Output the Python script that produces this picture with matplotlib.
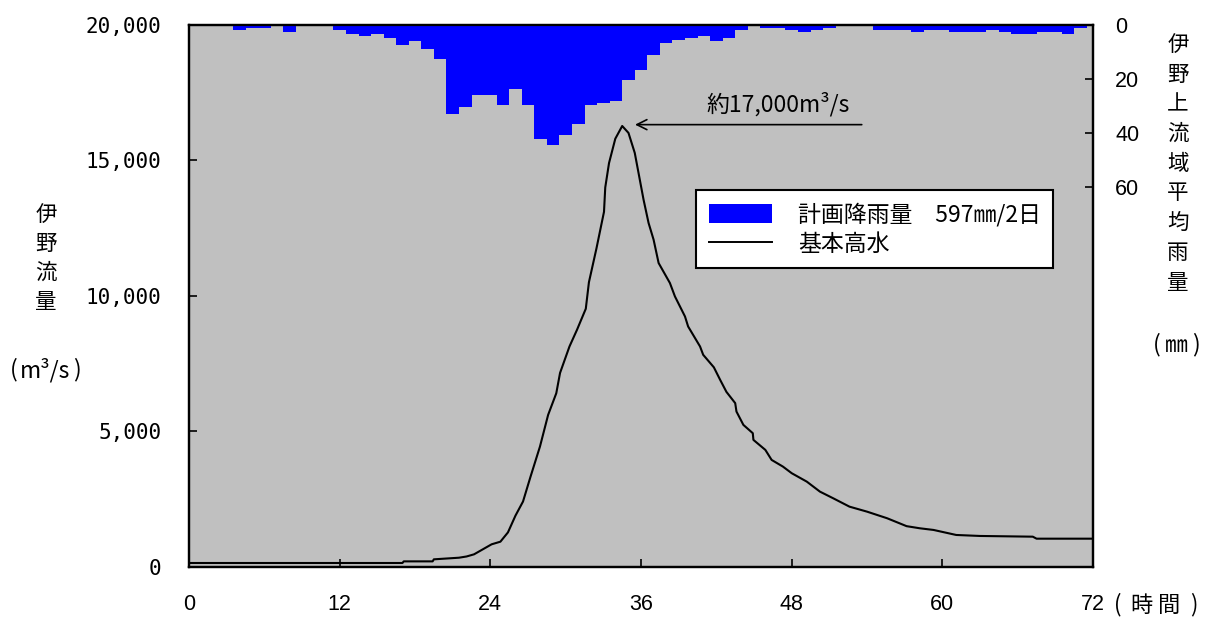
import numpy as np
import matplotlib
matplotlib.use('Agg')
import matplotlib.pyplot as plt
from matplotlib.patches import Patch
from matplotlib.lines import Line2D

plt.rcParams['font.family'] = ['Noto Sans CJK JP', 'DejaVu Sans']

# hourly basin-average rainfall (mm), hours 0..72
rain_hours = np.arange(0, 73)
rain_mm = [0, 0, 0, 0, 1.7, 1.1, 1.1, 0.4, 2.5, 0.4, 0.4, 0.4, 1.9, 3.3, 4.0, 3.3,
           4.8, 7.3, 5.9, 8.9, 12.6, 33.0, 30.4, 25.9, 25.9, 29.6, 23.7, 29.6, 42.0,
           44.4, 40.7, 36.7, 29.6, 28.9, 28.1, 20.4, 16.7, 11.1, 6.7, 5.6, 4.8, 4.1,
           5.9, 4.8, 1.9, 0.4, 1.1, 1.1, 1.9, 2.5, 1.9, 1.1, 0.2, 0.2, 0.2, 1.9, 1.9,
           1.9, 2.5, 1.9, 1.9, 2.5, 2.5, 2.5, 1.9, 2.5, 3.3, 3.3, 2.5, 2.5, 3.3, 1.1, 0.2]

# design flood hydrograph at Ino (m3/s)
flow_hours = [0, 17.0, 17.1, 19.4, 19.5, 21.5, 22.1, 22.7, 24.1, 24.8, 25.4, 26.0,
              26.6, 27.2, 27.95, 28.6, 29.25, 29.55, 30.3, 30.9, 31.6, 31.85, 32.45,
              33.05, 33.15, 33.45, 33.95, 34.5, 35.0, 35.5, 35.8, 36.2, 36.6, 37.0,
              37.4, 38.3, 38.7, 39.1, 39.5, 39.75, 40.7, 40.95, 41.8, 42.3, 42.8,
              43.5, 43.6, 44.15, 44.9, 44.95, 45.9, 46.4, 47.3, 48.0, 49.2, 50.25,
              51.3, 52.6, 54.0, 55.6, 57.15, 58.2, 59.3, 61.1, 63.0, 67.2, 67.5, 72]
flow_q = [130, 130, 190, 190, 265, 325, 370, 450, 820, 917, 1260, 1880,
          2400, 3320, 4430, 5600, 6400, 7150, 8126, 8743, 9520, 10500, 11750,
          13100, 14000, 14900, 15800, 16270, 16015, 15276, 14537, 13550, 12688, 12071,
          11209, 10470, 9975, 9605, 9235, 8865, 8126, 7819, 7357, 6895, 6450,
          6034, 5723, 5231, 4924, 4677, 4307, 3937, 3690, 3446, 3135, 2765,
          2521, 2211, 2026, 1782, 1490, 1412, 1350, 1165, 1128, 1102, 1028, 1028]

x_ticks = [0, 12, 24, 36, 48, 60, 72]
q_ticks = [0, 5000, 10000, 15000, 20000]
r_ticks = [0, 20, 40, 60]

fig = plt.figure(figsize=(12.07, 6.19), dpi=100)
ax = fig.add_axes([0.1566, 0.0848, 0.7490, 0.8748])
ax.set_facecolor('#C0C0C0')

ax.plot(flow_hours, flow_q, color='black', lw=1.5, zorder=3)
ax.set_xlim(0, 72)
ax.set_ylim(0, 20000)
ax.set_xticks(x_ticks)
ax.set_yticks(q_ticks)
ax.set_yticklabels([f'{v:,}' for v in q_ticks], family='DejaVu Sans Mono', fontsize=15)
ax.set_xticklabels([str(v) for v in x_ticks], family='Liberation Sans', fontsize=15.5)
ax.tick_params(axis='y', direction='in', length=6, width=1.2, pad=20)
ax.tick_params(axis='x', direction='in', length=6, width=1.2, pad=20)
for s in ax.spines.values():
    s.set_linewidth(1.6)

ax2 = ax.twinx()
ax2.bar(rain_hours, rain_mm, width=1.0, color='#0000FF', align='center')
ax2.set_ylim(200, 0)
ax2.set_xlim(0, 72)
ax2.set_yticks(r_ticks)
ax2.set_yticklabels([str(v) for v in r_ticks], family='Liberation Sans', fontsize=15.5)
ax2.tick_params(axis='y', direction='in', length=6, width=1.2, pad=16)
for s in ax2.spines.values():
    s.set_linewidth(1.6)

# peak annotation
ax.annotate('', xy=(35.3, 16320), xytext=(53.8, 16320),
            arrowprops=dict(arrowstyle='->', color='black', lw=1.2, mutation_scale=18))
ax.text(46.9, 17060, '約17,000m³/s', fontsize=16.5, ha='center', va='center')

handles = [Patch(facecolor='#0000FF', edgecolor='none'),
           Line2D([], [], color='black', lw=1.4)]
labels = ['計画降雨量　597㎜/2日', '基本高水']
leg = ax2.legend(handles, labels, loc='upper left', bbox_to_anchor=(0.561, 0.696),
                 fontsize=16.5, frameon=True, fancybox=False, framealpha=1,
                 edgecolor='black', handlelength=2.75, handleheight=0.9,
                 handletextpad=1.13, labelspacing=0.3, borderpad=0.55, borderaxespad=0)
leg.get_frame().set_linewidth(1.5)

# axis titles written vertically
for i, ch in enumerate('伊野流量'):
    fig.text(46 / 1207, 1 - (215 + 29 * i) / 619, ch, fontsize=15.5, ha='center', va='center')
for ch, px in zip(['(', 'm³/s', ')'], [14, 45, 77]):
    fig.text(px / 1207, 1 - 370 / 619, ch, fontsize=16.5, ha='center', va='center')
for i, ch in enumerate('伊野上流域平均雨量'):
    fig.text(1178 / 1207, 1 - (45 + 29.7 * i) / 619, ch, fontsize=15.5, ha='center', va='center')
for ch, px in zip(['(', '㎜', ')'], [1157, 1176, 1196]):
    fig.text(px / 1207, 1 - 345 / 619, ch, fontsize=16.5, ha='center', va='center')
for ch, px in zip(['(', '時', '間', ')'], [1118, 1141, 1169, 1194]):
    fig.text(px / 1207, 1 - 605 / 619, ch, fontsize=16, ha='center', va='center')

fig.savefig('out.png', dpi=100)
